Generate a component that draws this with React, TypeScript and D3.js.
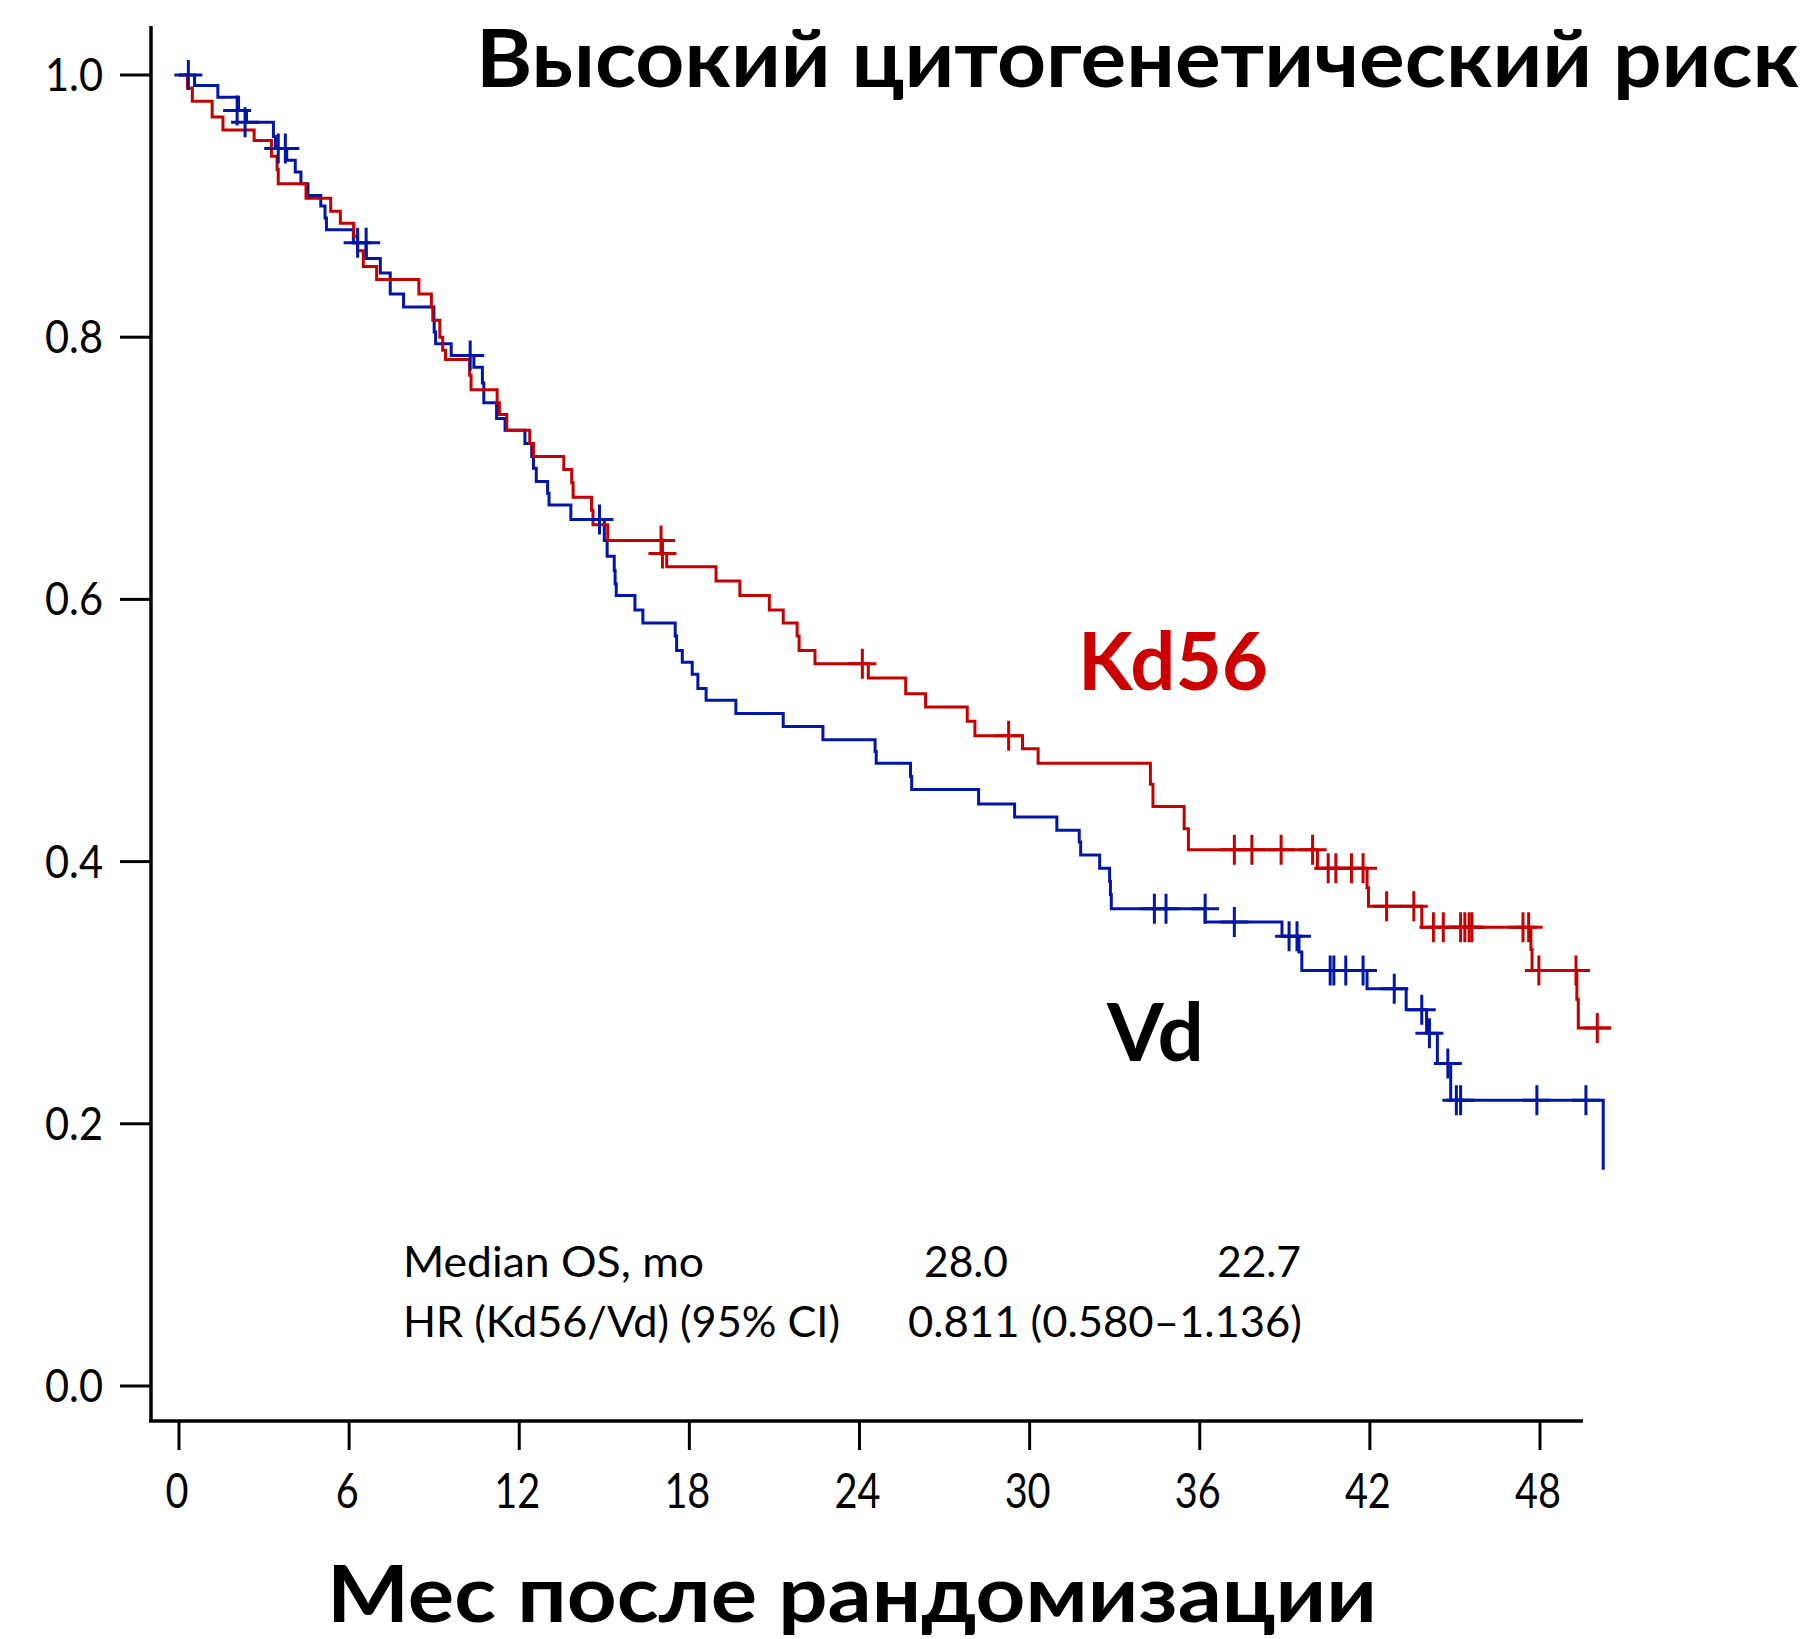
import React from "react";
import * as d3 from "d3";

// ---- data (months, survival) ----
const kd56Steps: [number, number][] = [
  [0, 1.0], [0.3, 0.99], [0.47, 0.98], [1.17, 0.968], [1.55, 0.958], [2.65, 0.95],
  [3.26, 0.938], [3.46, 0.928], [3.5, 0.917], [4.48, 0.906], [5.35, 0.896], [5.69, 0.887],
  [6.16, 0.877], [6.3, 0.866], [6.5, 0.854], [6.97, 0.844], [8.46, 0.833], [8.9, 0.823],
  [8.95, 0.813], [9.2, 0.8], [9.3, 0.79], [9.4, 0.783], [10.25, 0.771], [10.3, 0.76],
  [11.22, 0.75], [11.3, 0.741], [11.56, 0.729], [12.37, 0.719], [12.5, 0.709], [13.57, 0.699],
  [13.85, 0.689], [13.9, 0.678], [14.55, 0.668], [14.6, 0.657], [15.12, 0.645], [17.02, 0.635],
  [17.2, 0.625], [18.94, 0.614], [19.78, 0.603], [20.82, 0.592], [21.31, 0.582], [21.8, 0.572],
  [21.87, 0.561], [22.43, 0.551], [24.31, 0.54], [25.63, 0.528], [26.33, 0.518], [27.8, 0.507],
  [28.07, 0.496], [29.75, 0.486], [30.3, 0.475], [34.26, 0.459], [34.35, 0.442], [35.45, 0.425],
  [35.6, 0.409], [40.15, 0.395], [41.9, 0.38], [41.95, 0.366], [43.83, 0.35], [47.68, 0.333],
  [47.72, 0.317], [49.3, 0.295], [49.35, 0.273], [50.5, 0.273],
];
const kd56Censor: [number, number][] = [
  [17.0, 0.645], [17.05, 0.635], [24.1, 0.551], [29.26, 0.496], [37.22, 0.409], [37.84, 0.409],
  [38.87, 0.409], [39.98, 0.409], [40.53, 0.395], [40.8, 0.395], [41.35, 0.395], [41.76, 0.395],
  [42.59, 0.366], [43.55, 0.366], [44.24, 0.35], [44.59, 0.35], [45.2, 0.35], [45.35, 0.35],
  [45.5, 0.35], [45.6, 0.35], [47.4, 0.35], [47.6, 0.35], [47.96, 0.317], [49.27, 0.317],
  [50.02, 0.273],
];
const vdSteps: [number, number][] = [
  [0, 1.0], [0.55, 0.992], [1.37, 0.983], [2.1, 0.973], [2.38, 0.964], [3.33, 0.953],
  [3.4, 0.944], [3.8, 0.935], [4.1, 0.926], [4.3, 0.917], [4.55, 0.908], [5.0, 0.9],
  [5.15, 0.891], [5.2, 0.882], [6.15, 0.872], [6.6, 0.86], [7.1, 0.849], [7.45, 0.833],
  [7.92, 0.823], [8.99, 0.813], [9.0, 0.804], [9.05, 0.795], [9.6, 0.786], [10.4, 0.777],
  [10.7, 0.765], [10.75, 0.75], [11.2, 0.738], [11.5, 0.729], [12.2, 0.719], [12.44, 0.709],
  [12.5, 0.7], [12.6, 0.69], [13.0, 0.681], [13.05, 0.672], [13.82, 0.661], [15.0, 0.645],
  [15.1, 0.633], [15.35, 0.622], [15.38, 0.612], [15.42, 0.603], [16.08, 0.592], [16.36, 0.582],
  [17.5, 0.572], [17.55, 0.561], [17.75, 0.552], [18.1, 0.543], [18.3, 0.532], [18.59, 0.523],
  [19.64, 0.513], [21.31, 0.503], [22.71, 0.493], [24.55, 0.484], [24.59, 0.475], [25.8, 0.465],
  [25.84, 0.455], [28.2, 0.444], [29.47, 0.434], [30.96, 0.424], [31.75, 0.415], [31.8, 0.405],
  [32.47, 0.395], [32.82, 0.385], [32.85, 0.375], [32.88, 0.364], [36.19, 0.354], [38.9, 0.343],
  [39.5, 0.331], [39.6, 0.317], [41.9, 0.303], [43.28, 0.287], [44.0, 0.269], [44.38, 0.246],
  [44.85, 0.218], [50.23, 0.218], [50.23, 0.165],
];
const vdCensor: [number, number][] = [
  [0.33, 1.0], [2.05, 0.973], [2.33, 0.964], [3.5, 0.944], [3.75, 0.944], [6.3, 0.872],
  [6.6, 0.872], [10.27, 0.786], [14.83, 0.661], [34.4, 0.364], [34.81, 0.364], [36.19, 0.364],
  [37.22, 0.354], [39.15, 0.343], [39.43, 0.343], [40.6, 0.317], [40.73, 0.317], [41.15, 0.317],
  [41.76, 0.317], [42.86, 0.303], [43.83, 0.287], [44.1, 0.269], [44.75, 0.246], [45.05, 0.218],
  [45.2, 0.218], [47.89, 0.218], [49.62, 0.218],
];
const xTicks = [0, 6, 12, 18, 24, 30, 36, 42, 48];
const yTicks = [0, 0.2, 0.4, 0.6, 0.8, 1.0];
const titleText = "Высокий цитогенетический риск";
const xAxisTitle = "Мес после рандомизации";
const seriesLabels = ["Kd56", "Vd"];
const statRows = [
  ["Median OS, mo", "28.0", "22.7"],
  ["HR (Kd56/Vd) (95% CI)", "0.811 (0.580–1.136)"],
];

const RED = "#c40000";
const BLUE = "#0016a6";
const FONT = "Lato, 'Open Sans', sans-serif";

export default function App() {
  const x = d3.scaleLinear().domain([0, 48]).range([179, 1540]);
  const y = d3.scaleLinear().domain([0, 1]).range([1386, 75]);
  const line = d3
    .line<[number, number]>()
    .x((d) => x(d[0]))
    .y((d) => y(d[1]))
    .curve(d3.curveStepAfter);

  const cross = (data: [number, number][], color: string, key: string) =>
    data.map((d, i) => {
      const cx = x(d[0]);
      const cy = y(d[1]);
      return (
        <path
          key={key + i}
          d={`M${cx - 14},${cy}H${cx + 14}M${cx},${cy - 15}V${cy + 15}`}
          stroke={color}
          strokeWidth={3}
          fill="none"
        />
      );
    });

  return (
    <svg
      width={1812}
      height={1639}
      style={{ position: "absolute", left: 0, top: 0, display: "block", background: "#fff" }}
    >
      <rect x={0} y={0} width={1812} height={1639} fill="#fff" />
      {/* axes */}
      <line x1={151} x2={151} y1={26} y2={1422} stroke="#000" strokeWidth={3.5} />
      <line x1={149} x2={1583} y1={1421} y2={1421} stroke="#000" strokeWidth={3.5} />
      {yTicks.map((t) => (
        <g key={"yt" + t}>
          <line x1={120} x2={151} y1={y(t)} y2={y(t)} stroke="#000" strokeWidth={3} />
          <text
            x={103}
            y={y(t) + 16}
            fontFamily={FONT}
            fontSize={46}
            textAnchor="end"
            textLength={58}
            lengthAdjust="spacingAndGlyphs"
            fill="#000"
          >
            {t.toFixed(1)}
          </text>
        </g>
      ))}
      {xTicks.map((t) => (
        <g key={"xt" + t}>
          <line x1={x(t)} x2={x(t)} y1={1421} y2={1450} stroke="#000" strokeWidth={3} />
          <text
            x={x(t) - 2}
            y={1508}
            fontFamily={FONT}
            fontSize={48}
            textAnchor="middle"
            textLength={String(t).length * 23}
            lengthAdjust="spacingAndGlyphs"
            fill="#000"
          >
            {t}
          </text>
        </g>
      ))}

      {/* curves */}
      <path d={line(vdSteps) || ""} stroke={BLUE} strokeWidth={3} fill="none" />
      <path d={line(kd56Steps) || ""} stroke={RED} strokeWidth={3} fill="none" />
      {cross(vdCensor, BLUE, "vc")}
      {cross(kd56Censor, RED, "kc")}

      {/* title */}
      <text x={476} y={87} fontFamily={FONT} fontWeight={700} fontSize={80}
        textLength={1323} lengthAdjust="spacingAndGlyphs" fill="#000">
        {titleText}
      </text>
      {/* series labels */}
      <text x={1078} y={690} fontFamily={FONT} fontWeight={700} fontSize={80}
        textLength={190} lengthAdjust="spacingAndGlyphs" fill="#cc0000">
        {seriesLabels[0]}
      </text>
      <text x={1107} y={1061} fontFamily={FONT} fontWeight={700} fontSize={80}
        textLength={97} lengthAdjust="spacingAndGlyphs" fill="#000">
        {seriesLabels[1]}
      </text>
      {/* stats */}
      <text x={403} y={1277} fontFamily={FONT} fontSize={43} textLength={301}
        lengthAdjust="spacingAndGlyphs" fill="#000">{statRows[0][0]}</text>
      <text x={924} y={1277} fontFamily={FONT} fontSize={43} textLength={84}
        lengthAdjust="spacingAndGlyphs" fill="#000">{statRows[0][1]}</text>
      <text x={1217} y={1277} fontFamily={FONT} fontSize={43} textLength={84}
        lengthAdjust="spacingAndGlyphs" fill="#000">{statRows[0][2]}</text>
      <text x={403} y={1337} fontFamily={FONT} fontSize={43} textLength={437}
        lengthAdjust="spacingAndGlyphs" fill="#000">{statRows[1][0]}</text>
      <text x={908} y={1337} fontFamily={FONT} fontSize={43} textLength={394}
        lengthAdjust="spacingAndGlyphs" fill="#000">{statRows[1][1]}</text>
      {/* x axis title */}
      <text x={327} y={1622} fontFamily={FONT} fontWeight={700} fontSize={78}
        textLength={1050} lengthAdjust="spacingAndGlyphs" fill="#000">
        {xAxisTitle}
      </text>
    </svg>
  );
}
